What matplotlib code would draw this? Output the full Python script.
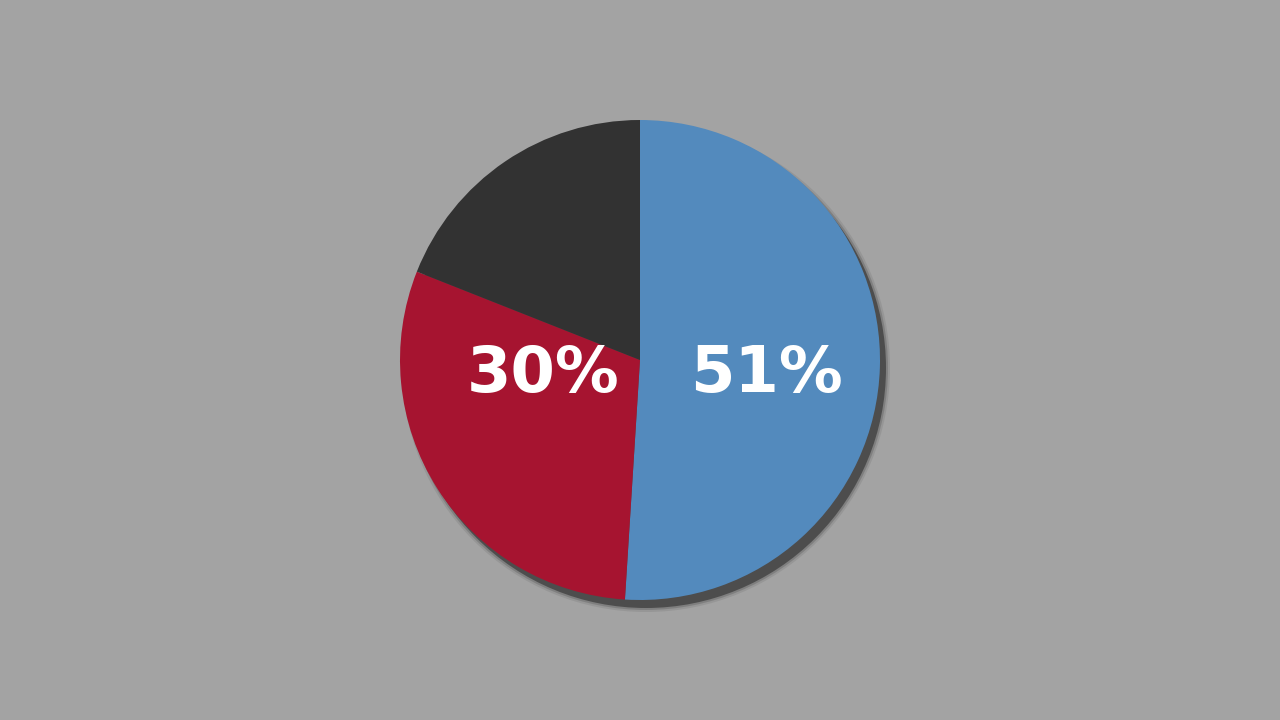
import matplotlib.pyplot as plt
from matplotlib.patches import Circle

# Slices, clockwise from 12 o'clock
shares = [51, 30, 19]
labels = ['51%', '30%', '']
colors = ['#538abd', '#a61430', '#323232']

BG = '#a3a3a3'
CX, CY, R = 640, 360, 240
# label anchor points (pixel space, y up)
label_xy = [(766, 346), (543, 346), None]

fig = plt.figure(figsize=(12.8, 7.2), dpi=100, facecolor=BG)
ax = fig.add_axes([0, 0, 1, 1])
ax.set_facecolor(BG)

# soft drop shadow
for k, a in [(4, 0.15), (2, 0.3), (0, 1.0)]:
    ax.add_patch(Circle((CX + 6, CY - 8), R + k, color='#4d4d4d', alpha=a,
                        lw=0, zorder=1))

ax.pie(shares, colors=colors, startangle=90, counterclock=False,
       center=(CX, CY), radius=R, frame=True,
       wedgeprops=dict(linewidth=0, zorder=2))
ax.set_xlim(0, 1280)
ax.set_ylim(0, 720)
ax.set_aspect('equal')
ax.axis('off')

for txt, xy in zip(labels, label_xy):
    if xy is None or not txt:
        continue
    ax.text(xy[0], xy[1], txt, ha='center', va='center', color='white',
            fontsize=46, fontweight='bold', family='DejaVu Sans', zorder=5)

fig.savefig('out.png', dpi=100, facecolor=BG)
